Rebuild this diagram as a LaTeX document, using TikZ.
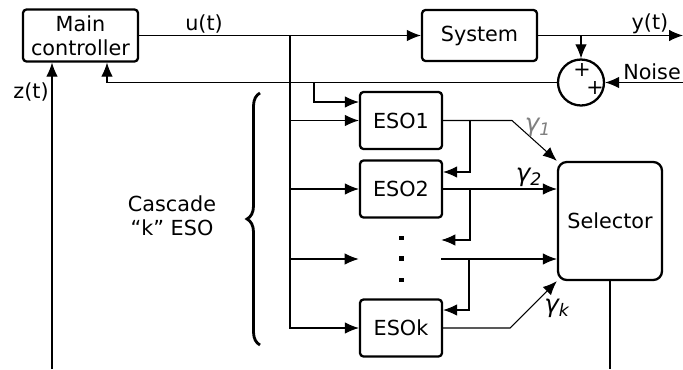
\documentclass[tikz,border=0pt]{standalone}
\usepackage{fontspec}
\setmainfont{DejaVu Sans}
\usepackage{tikz}
\usetikzlibrary{positioning,calc,arrows.meta,decorations.pathreplacing}

\tikzset{
  block/.style={draw, line width=1.3pt, rounded corners=2pt, minimum width=1.64cm, minimum height=1.14cm, inner sep=1pt},
  sig/.style={line width=0.6pt},
  gam/.style={font=\fontsize{14}{14}\selectfont\itshape},
}

\begin{document}
\begin{tikzpicture}[>={Latex[length=2.8mm,width=2.3mm]}, font=\fontsize{11.8}{13.5}\selectfont]
  \useasboundingbox (0,0) rectangle (13.66,7.38);

  % Main loop blocks
  \node[block, minimum width=2.3cm, minimum height=1.04cm, align=center] (main) at (1.61,6.67) {Main\\controller};
  \node[block, minimum width=2.3cm, minimum height=1.02cm] (sys) at (9.59,6.67) {System};
  \node[circle, draw, line width=1.3pt, minimum size=0.92cm, inner sep=0pt] (sum) at (11.62,5.73) {};
  \node (plustop) at (11.64,5.99) {+};
  \node (plusright) at (11.9,5.62) {+};

  % Cascade of observers
  \node[block] (eso1) at (8.02,4.97) {ESO1};
  \node[block] (eso2) at (8.02,3.6) {ESO2};
  \node[minimum width=1.64cm, minimum height=1.14cm] (dots) at (8.0,2.2) {};
  \node[block] (esok) at (8.02,0.82) {ESOk};
  \foreach \y in {2.62,2.21,1.78}
    \fill (7.98,\y-0.045) rectangle ++(0.09,0.09);
  \node[block, minimum width=2.08cm, minimum height=2.36cm, rounded corners=5pt] (sel) at (12.2,2.96) {Selector};

  % Free ends and taps
  \coordinate (bus) at (5.8,6.67);
  \coordinate (yout) at (13.66,6.67);
  \coordinate (noise) at (13.66,5.73);
  \coordinate (zin) at (1.04,0);
  \coordinate (tap) at (6.28,5.73);
  \coordinate (k1) at (10.24,4.97);
  \coordinate (kk) at (10.2,0.82);
  \coordinate (selout) at (12.2,0);

  % u(t), y(t), noise and feedback
  \draw[sig,->] (main.east) -- (sys.west);
  \node (ulabel) at (4.08,6.9) {u(t)};
  \draw[sig,->] (sys.east) -- (yout);
  \node (ylabel) at (13.0,6.9) {y(t)};
  \draw[sig,->] (sum.north |- sys.east) -- (sum.north);
  \draw[sig,->] (noise) -- (sum.east);
  \node (nlabel) at (13.04,5.95) {Noise};
  \draw[sig,->] (sum.west) -| ([xshift=5.3mm]main.south);
  \draw[sig,->] (zin) -- (zin |- main.south);
  \node (zlabel) at (0.62,5.54) {z(t)};

  % Inputs to the observers
  \draw[sig,->] (bus) |- (esok.west);
  \draw[sig,->] (bus |- eso1.west) -- (eso1.west);
  \draw[sig,->] (bus |- eso2.west) -- (eso2.west);
  \draw[sig,->] (bus |- dots.west) -- (dots.west);
  \draw[sig,->] (tap) |- ([yshift=3.7mm]eso1.west);

  % Outputs to the selector
  \draw[sig,->] (eso1.east) -- (k1) -- (sel.north west);
  \node[gam, gray] (g1) at (10.76,4.84) {γ\textsubscript{1}};
  \draw[sig,->] (eso2.east) -- (eso2.east -| sel.west);
  \node[gam] (g2) at (10.58,3.84) {γ\textsubscript{2}};
  \draw[sig,->] (dots.east) -- (dots.east -| sel.west);
  \draw[sig,->] (esok.east) -- (kk) -- (sel.south west);
  \node[gam] (gk) at (11.14,1.22) {γ\textsubscript{k}};
  \draw[sig] (sel.south) -- (selout);

  % Cascade links
  \draw[sig,->] (eso1.east -| 9.4,0) |- ([yshift=3.4mm]eso2.east);
  \draw[sig,->] (eso2.east -| 9.4,0) |- ([yshift=3.8mm]dots.east);
  \draw[sig,->] (dots.east -| 9.38,0) |- ([yshift=3.6mm]esok.east);

  % Brace
  \draw[line width=1.6pt, decorate, decoration={brace, amplitude=2.6mm}] (5.2,0.48) -- (5.2,5.52);
  \node[align=center] (cascade) at (3.44,3.06) {Cascade\\“k” ESO};
\end{tikzpicture}
\end{document}
